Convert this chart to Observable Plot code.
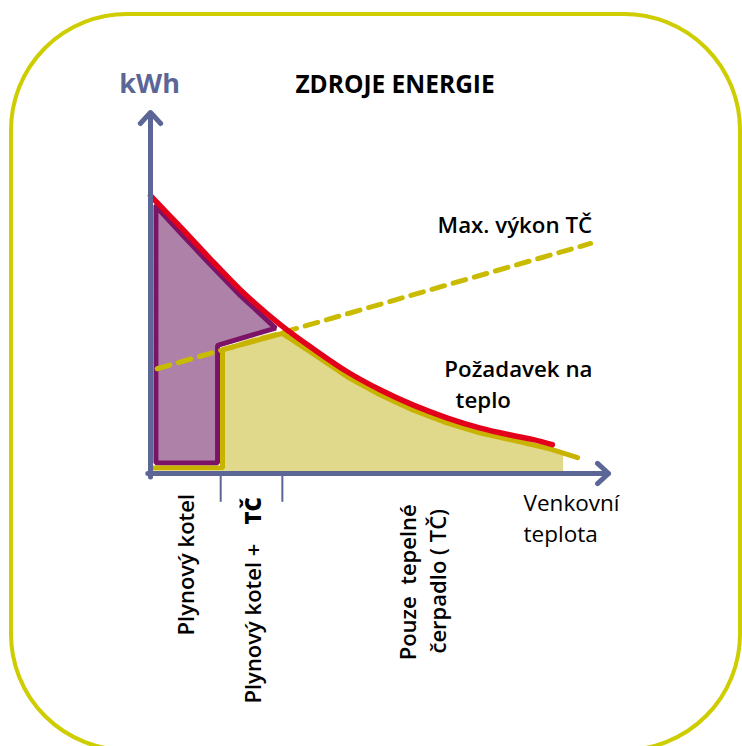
<!DOCTYPE html>
<html><head><meta charset="utf-8">
<script src="https://cdn.jsdelivr.net/npm/d3@7"></script>
<script src="https://cdn.jsdelivr.net/npm/@observablehq/plot@0.6"></script>
<style>
html,body{margin:0;padding:0;background:#fff;overflow:hidden;width:742px;height:746px;}
#wrap{position:relative;width:742px;height:746px;overflow:hidden;}
#border{position:absolute;left:9px;top:12px;width:733px;height:740px;box-sizing:border-box;border:4.5px solid #cdcd00;border-radius:118px;}
#chart{position:absolute;left:0;top:0;}
</style></head><body>
<div id="wrap"><div id="border"></div><div id="chart"></div></div>
<script>
// Heat demand curve (outdoor temperature units vs kWh units)
const demandX = [0, 6.7, 12.7, 20.0, 28.9, 36.2, 43.8, 51.1, 58.4, 66.0, 73.3, 80.7, 85.1, 89.3];
const demandY = [77.2, 68.4, 60.4, 51.0, 41.3, 34.6, 28.2, 23.2, 19.0, 15.4, 12.6, 10.5, 9.4, 8.0];

// Gas boiler region outline
const gasX = [1.2, 6.7, 12.7, 20.0, 27.8, 14.9, 14.9, 1.2, 1.2];
const gasY = [74.2, 66.8, 58.8, 49.4, 40.4, 35.6, 2.9, 2.9, 74.2];

// Heat pump region: filled profile and outline
const hpFillX = [16.0, 29.3, 36.2, 43.8, 51.1, 58.4, 66.0, 73.3, 80.7, 88.9, 91.8];
const hpFillY = [34.4, 38.9, 33.2, 26.8, 21.8, 17.6, 14.0, 11.2, 9.2, 6.8, 5.6];
const hpLineX = [0, 16.0, 16.0, 29.3, 36.2, 43.8, 51.1, 58.4, 66.0, 73.3, 80.7, 88.9, 94.9];
const hpLineY = [1.5, 1.5, 34.4, 38.9, 33.2, 26.8, 21.8, 17.6, 14.0, 11.2, 9.2, 6.8, 4.4];

// Max heat-pump output (dashed)
const maxX = [1.5, 97.8];
const maxY = [29.1, 63.9];

// Operating-mode boundaries on the temperature axis
const modeBounds = [15.6, 29.3];

// Texts
const title = "ZDROJE ENERGIE";
const yLabel = "kWh";
const xLabel = "Venkovní\nteplota";
const maxLabel = "Max. výkon TČ";
const demandLabel = ["Požadavek na", "teplo"];
const modeLabels = ["Plynový kotel", "Plynový kotel + ", "TČ", "Pouze  tepelné", "čerpadlo ( TČ)"];

const zip = (xs, ys) => xs.map((x, i) => ({x, y: ys[i]}));
const demand = zip(demandX, demandY);
const gas = zip(gasX, gasY);
const hpFill = zip(hpFillX, hpFillY);
const hpLine = zip(hpLineX, hpLineY);
const maxLine = zip(maxX, maxY);

const axisColor = "#5c6696";
const FONT = "'Open Sans', sans-serif";
const label = (t, x, y, o = {}) => Plot.text([t], {x: () => x, y: () => y, text: d => d,
  fontFamily: FONT, fontSize: 22.3, fontWeight: 600, fill: "#000", textAnchor: "start", lineAnchor: "bottom", ...o});

const chart = Plot.plot({
  width: 742, height: 746, margin: 0,
  x: {domain: [0, 100], range: [150, 600], axis: null},
  y: {domain: [0, 100], range: [473, 113], axis: null},
  style: {background: "transparent", overflow: "visible"},
  marks: [
    Plot.areaY(hpFill, {x: "x", y1: 0, y2: "y", fill: "#e0d98c", curve: "monotone-x"}),
    Plot.line(gas, {x: "x", y: "y", fill: "#ae82a8", stroke: "#7b1466", strokeWidth: 5, strokeLinejoin: "miter", curve: "linear"}),
    Plot.line(maxLine, {x: "x", y: "y", stroke: "#c9bb00", strokeWidth: 5, strokeDasharray: "13,9"}),
    Plot.line(hpLine, {x: "x", y: "y", stroke: "#c8b400", strokeWidth: 5, strokeLinejoin: "miter", curve: "linear"}),
    Plot.line(demand, {x: "x", y: "y", stroke: "#e2001a", strokeWidth: 5.5, curve: "catmull-rom"}),
    Plot.ruleX(modeBounds, {x: d => d, y1: 0, y2: -8, stroke: axisColor, strokeWidth: 2}),
    Plot.arrow([0], {x1: 0, y1: -1, x2: 0, y2: 100.3, stroke: axisColor, strokeWidth: 5, headLength: 4.5, headAngle: 85}),
    Plot.arrow([0], {x1: -0.6, y1: 0, x2: 101.8, y2: 0, stroke: axisColor, strokeWidth: 5, headLength: 4.5, headAngle: 85}),
    label(yLabel, -0.2, 105.8, {textAnchor: "middle", fontSize: 27, fontWeight: 700, fill: axisColor}),
    label(title, 32.2, 105.6, {fontSize: 24.5, fontWeight: 700}),
    label(maxLabel, 63.8, 66.7),
    label(demandLabel[0], 65.3, 26.7),
    label(demandLabel[1], 67.8, 18.1),
    label(xLabel, 82.9, -19.0, {fontWeight: 400, fontSize: 22.5, lineHeight: 1.37}),
    label(modeLabels[0], 9.6, -45, {rotate: -90, fontSize: 22}),
    label(modeLabels[1], 24.6, -63.9, {rotate: -90, fontSize: 22}),
    label(modeLabels[2], 24.6, -14.2, {rotate: -90, fontSize: 22, fontWeight: 800}),
    label(modeLabels[3], 58.9, -51.9, {rotate: -90, fontSize: 22}),
    label(modeLabels[4], 65.6, -50, {rotate: -90, fontSize: 22})
  ]
});
document.getElementById("chart").appendChild(chart);
</script>
</body></html>
